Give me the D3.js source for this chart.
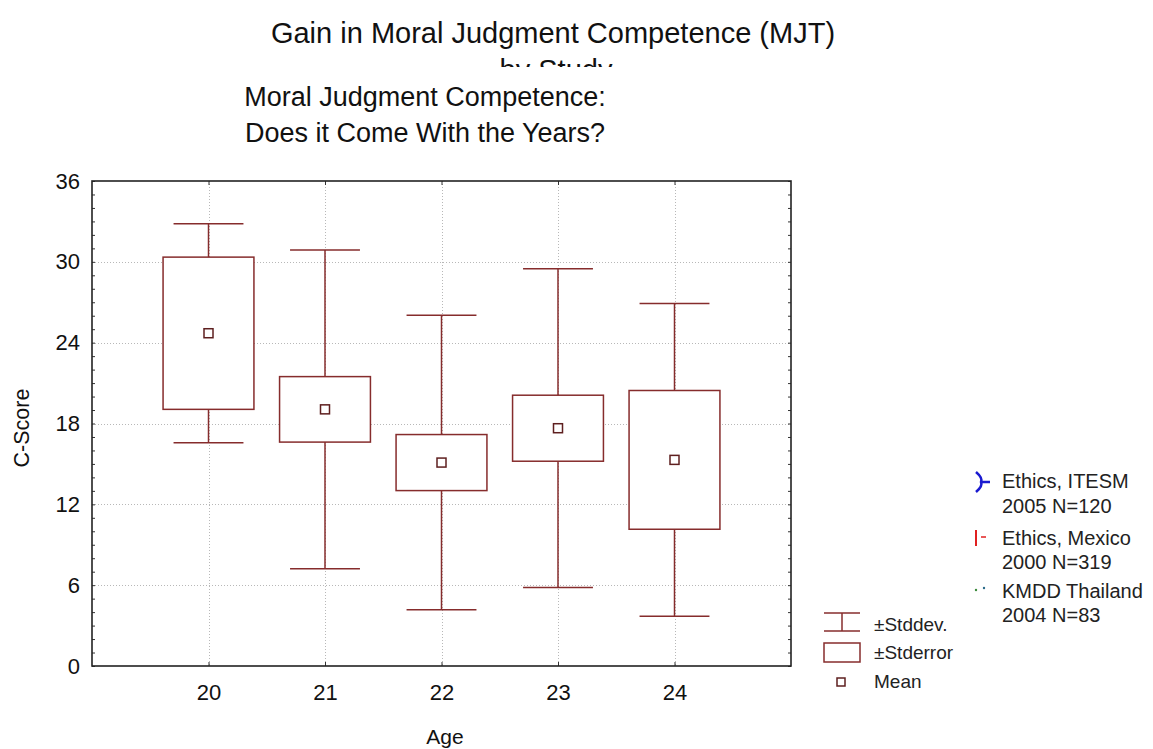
<!DOCTYPE html>
<html>
<head>
<meta charset="utf-8">
<script src="https://cdn.jsdelivr.net/npm/d3@7"></script>
<style>
  html, body { margin: 0; padding: 0; background: #fff; }
  svg { display: block; font-family: "Liberation Sans", Arial, sans-serif; }
</style>
</head>
<body>
<svg id="chart" width="1153" height="749"></svg>
<script>
// Age groups and their C-score summaries (mean, ±standard error box, ±standard deviation whiskers)
const ages = [20, 21, 22, 23, 24];
const means = [24.7, 19.05, 15.1, 17.65, 15.3];
const stdErr = [5.65, 2.43, 2.08, 2.45, 5.15];
const stdDev = [8.12, 11.83, 10.93, 11.83, 11.6];

const yTicks = [0, 6, 12, 18, 24, 30, 36];
const xTicks = [20, 21, 22, 23, 24];

const statLegend = ["±Stddev.", "±Stderror", "Mean"];
const studyLegend = [
  ["Ethics, ITESM", "2005 N=120"],
  ["Ethics, Mexico", "2000 N=319"],
  ["KMDD Thailand", "2004 N=83"]
];

const svg = d3.select("#chart");
const plot = { left: 92, right: 791, top: 181, bottom: 666 };

const x = d3.scaleLinear().domain([19, 25]).range([plot.left, plot.right]);
const y = d3.scaleLinear().domain([0, 36]).range([plot.bottom, plot.top]);

const boxColor = "#862c2c";
const markColor = "#5e1f1f";

// Titles: the "by Study" line sits partly under the subtitle panel
svg.append("defs").append("clipPath").attr("id", "titleClip")
  .append("rect").attr("x", 0).attr("y", 0).attr("width", 1153).attr("height", 67);
svg.append("text").attr("x", 553).attr("y", 43).attr("text-anchor", "middle")
  .attr("font-size", 29).attr("fill", "#111").text("Gain in Moral Judgment Competence (MJT)");
svg.append("text").attr("x", 556).attr("y", 80).attr("text-anchor", "middle")
  .attr("clip-path", "url(#titleClip)")
  .attr("font-size", 29).attr("fill", "#111").text("by Study");

svg.append("text").attr("x", 425).attr("y", 106).attr("text-anchor", "middle")
  .attr("font-size", 27).attr("fill", "#111").text("Moral Judgment Competence:");
svg.append("text").attr("x", 425).attr("y", 142).attr("text-anchor", "middle")
  .attr("font-size", 27).attr("fill", "#111").text("Does it Come With the Years?");

// Dotted grid
const grid = svg.append("g").attr("stroke", "#b8b8b8").attr("stroke-width", 1).attr("stroke-dasharray", "1,2");
grid.selectAll("line.h").data(yTicks.filter(d => d > 0 && d < 36)).join("line")
  .attr("x1", plot.left).attr("x2", plot.right)
  .attr("y1", d => Math.round(y(d)) + 0.5).attr("y2", d => Math.round(y(d)) + 0.5);
grid.selectAll("line.v").data(xTicks).join("line")
  .attr("y1", plot.top).attr("y2", plot.bottom)
  .attr("x1", d => Math.round(x(d)) + 0.5).attr("x2", d => Math.round(x(d)) + 0.5);

// Axes with inward ticks
const minor = d3.range(0, 37, 1);
svg.append("g").attr("transform", `translate(${plot.left},0)`)
  .call(d3.axisRight(y).tickValues(minor).tickSize(3).tickFormat(""))
  .call(g => g.select(".domain").remove())
  .call(g => g.selectAll("line").attr("stroke", "#333"));
svg.append("g").attr("transform", `translate(${plot.right},0)`)
  .call(d3.axisLeft(y).tickValues(minor).tickSize(3).tickFormat(""))
  .call(g => g.select(".domain").remove())
  .call(g => g.selectAll("line").attr("stroke", "#333"));
svg.append("g").attr("transform", `translate(0,${plot.bottom})`)
  .call(d3.axisTop(x).tickValues(xTicks).tickSize(4).tickFormat(""))
  .call(g => g.select(".domain").remove())
  .call(g => g.selectAll("line").attr("stroke", "#333"));
svg.append("g").attr("transform", `translate(0,${plot.top})`)
  .call(d3.axisBottom(x).tickValues(xTicks).tickSize(4).tickFormat(""))
  .call(g => g.select(".domain").remove())
  .call(g => g.selectAll("line").attr("stroke", "#333"));

// Tick labels
svg.append("g").attr("transform", `translate(${plot.left},0)`)
  .call(d3.axisLeft(y).tickValues(yTicks).tickSize(0).tickPadding(12).tickFormat(d3.format("d")))
  .call(g => g.select(".domain").remove())
  .call(g => g.selectAll("text").attr("font-size", 22).attr("fill", "#111")
    .attr("font-family", "Liberation Sans, Arial, sans-serif"));
svg.append("g").attr("transform", `translate(0,${plot.bottom})`)
  .call(d3.axisBottom(x).tickValues(xTicks).tickSize(0).tickPadding(18).tickFormat(d3.format("d")))
  .call(g => g.select(".domain").remove())
  .call(g => g.selectAll("text").attr("font-size", 22).attr("fill", "#111")
    .attr("font-family", "Liberation Sans, Arial, sans-serif"));

// Frame
svg.append("rect").attr("x", plot.left).attr("y", plot.top)
  .attr("width", plot.right - plot.left).attr("height", plot.bottom - plot.top)
  .attr("fill", "none").attr("stroke", "#222").attr("stroke-width", 1.6);

// Axis titles
svg.append("text").attr("x", 445).attr("y", 744).attr("text-anchor", "middle")
  .attr("font-size", 21).attr("fill", "#111").text("Age");
svg.append("text").attr("transform", "translate(29,428) rotate(-90)").attr("text-anchor", "middle")
  .attr("font-size", 21.5).attr("fill", "#111").text("C-Score");

// Box-and-whisker marks
const boxHalf = 0.39, capHalf = 0.3;
const groups = svg.append("g").attr("stroke", boxColor).attr("stroke-width", 1.5).attr("fill", "none")
  .selectAll("g").data(ages.map((a, i) => ({ age: a, m: means[i], se: stdErr[i], sd: stdDev[i] })))
  .join("g");

groups.append("line")
  .attr("x1", d => x(d.age)).attr("x2", d => x(d.age))
  .attr("y1", d => y(d.m + d.sd)).attr("y2", d => y(d.m + d.se));
groups.append("line")
  .attr("x1", d => x(d.age)).attr("x2", d => x(d.age))
  .attr("y1", d => y(d.m - d.se)).attr("y2", d => y(d.m - d.sd));
groups.append("line")
  .attr("x1", d => x(d.age - capHalf)).attr("x2", d => x(d.age + capHalf))
  .attr("y1", d => y(d.m + d.sd)).attr("y2", d => y(d.m + d.sd));
groups.append("line")
  .attr("x1", d => x(d.age - capHalf)).attr("x2", d => x(d.age + capHalf))
  .attr("y1", d => y(d.m - d.sd)).attr("y2", d => y(d.m - d.sd));
groups.append("rect")
  .attr("x", d => x(d.age - boxHalf)).attr("width", d => x(d.age + boxHalf) - x(d.age - boxHalf))
  .attr("y", d => y(d.m + d.se)).attr("height", d => y(d.m - d.se) - y(d.m + d.se))
  .attr("fill", "#fff");
groups.append("rect")
  .attr("x", d => x(d.age) - 4.5).attr("y", d => y(d.m) - 4.5)
  .attr("width", 9).attr("height", 9)
  .attr("stroke", markColor).attr("fill", "#fff");

// Statistics legend
const lg = svg.append("g");
lg.append("g").attr("stroke", boxColor).attr("stroke-width", 1.5).call(g => {
  g.append("line").attr("x1", 824).attr("x2", 860).attr("y1", 613).attr("y2", 613);
  g.append("line").attr("x1", 824).attr("x2", 860).attr("y1", 631).attr("y2", 631);
  g.append("line").attr("x1", 842).attr("x2", 842).attr("y1", 613).attr("y2", 631);
  g.append("rect").attr("x", 824).attr("y", 643).attr("width", 36).attr("height", 19).attr("fill", "none");
  g.append("rect").attr("x", 837).attr("y", 678).attr("width", 8).attr("height", 8).attr("fill", "none")
    .attr("stroke", markColor);
});
lg.selectAll("text").data(statLegend).join("text")
  .attr("x", 874).attr("y", (d, i) => [631, 659, 688][i])
  .attr("font-size", 19).attr("fill", "#222").text(d => d);

// Study legend
const sg = svg.append("g");
sg.append("path").attr("d", "M976,472 Q983,478 981,482 Q983,486 976,492 M981,482 L990,482")
  .attr("stroke", "#1a1ad0").attr("stroke-width", 2.5).attr("fill", "none");
sg.append("line").attr("x1", 976).attr("x2", 976).attr("y1", 530).attr("y2", 546)
  .attr("stroke", "#e02020").attr("stroke-width", 2);
sg.append("line").attr("x1", 981).attr("x2", 986).attr("y1", 537).attr("y2", 537)
  .attr("stroke", "#e02020").attr("stroke-width", 1.5);
sg.append("circle").attr("cx", 976).attr("cy", 590).attr("r", 1.2).attr("fill", "#3a8a3a");
sg.append("circle").attr("cx", 984).attr("cy", 588).attr("r", 1.2).attr("fill", "#2a6a8a");
studyLegend.forEach((lines, i) => {
  sg.append("text").attr("x", 1002).attr("y", [488, 545, 598][i])
    .attr("font-size", 20).attr("fill", "#222").text(lines[0]);
  sg.append("text").attr("x", 1002).attr("y", [513, 569, 622][i])
    .attr("font-size", 20).attr("fill", "#222").text(lines[1]);
});
</script>
</body>
</html>
